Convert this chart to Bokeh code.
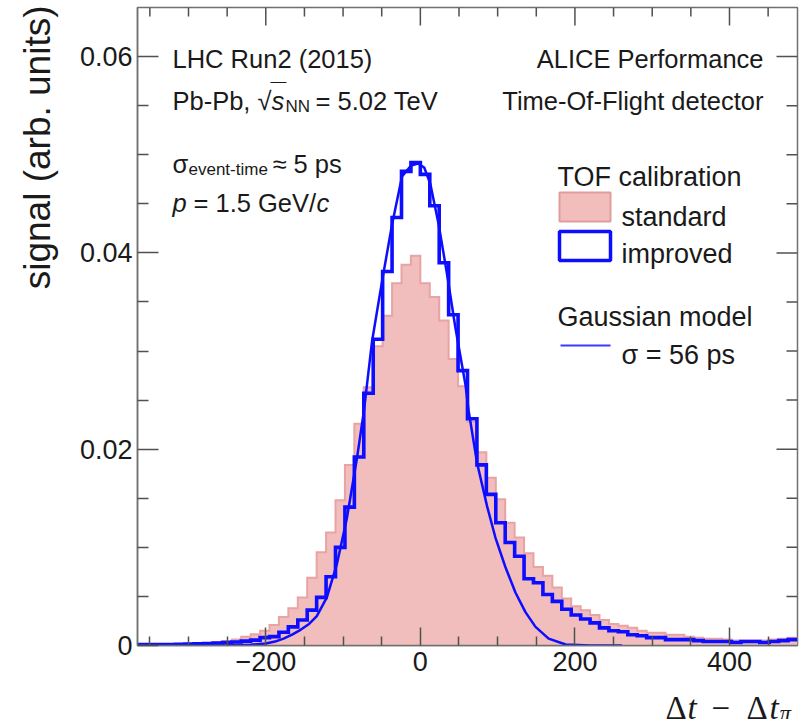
import numpy as np
from bokeh.plotting import figure
from bokeh.models import Range1d, FixedTicker, Label
from bokeh.embed import file_html
from bokeh.resources import INLINE

# ---------------- data ----------------
bin_width = 12.2          # ps
first_bin_index = -30     # first bin starts at -30 * 12.2 ps

standard = [0.00005, 0.00005, 0.0001, 0.0001, 0.00012, 0.00015, 0.0002, 0.00025, 0.0003, 0.00045,
            0.0006, 0.0009, 0.00115, 0.0015, 0.0021, 0.0029, 0.0038, 0.0049, 0.0069, 0.0095,
            0.0115, 0.0148, 0.0184, 0.0226, 0.0263, 0.0305, 0.0336, 0.0369, 0.0388, 0.0397,
            0.0369, 0.0355, 0.0331, 0.0292, 0.0264, 0.0228, 0.0197, 0.0171, 0.0149, 0.0125,
            0.0110, 0.0094, 0.0080, 0.0071, 0.0059, 0.0048, 0.0040, 0.0036, 0.0031, 0.0026,
            0.0022, 0.0020, 0.0018, 0.0015, 0.0013, 0.0013, 0.0011, 0.0011, 0.0009, 0.0008,
            0.0007, 0.0007, 0.0006, 0.0005, 0.0005, 0.0005, 0.0005, 0.0006, 0.0007, 0.0008]

improved = [0.0001, 0.0001, 0.0001, 0.0001, 0.00012, 0.00015, 0.00018, 0.0002, 0.00025, 0.0003,
            0.00035, 0.00045, 0.00055, 0.0008, 0.0009, 0.00135, 0.0019, 0.0026, 0.0036, 0.0049,
            0.0070, 0.0100, 0.0141, 0.0192, 0.0257, 0.0312, 0.0381, 0.0436, 0.0483, 0.0492,
            0.0480, 0.0448, 0.0390, 0.0337, 0.0280, 0.0231, 0.0184, 0.0154, 0.0125, 0.0105,
            0.0091, 0.0068, 0.0064, 0.0052, 0.0045, 0.0037, 0.0031, 0.0027, 0.0023, 0.0018,
            0.0015, 0.0014, 0.0011, 0.0010, 0.0008, 0.0008, 0.0006, 0.0006, 0.0006, 0.0005,
            0.0004, 0.0004, 0.0004, 0.0003, 0.0004, 0.0004, 0.0003, 0.0004, 0.0005, 0.0006]

gauss_x = [-366, -250, -220, -200, -188, -177, -166, -155, -144, -134, -121, -108, -95, -82, -73,
           -62.5, -49.6, -36.6, -23.7, -12, -3, 5, 13, 23.7, 34.6, 45.3, 58.3, 62.5, 73.4,
           86.3, 97.1, 110, 123, 136, 149, 166, 188, 220, 261]
gauss_y = [0.0, 0.00002, 0.00008, 0.0002, 0.0004, 0.0007, 0.0011, 0.0016, 0.0022, 0.0030, 0.0049,
           0.0083, 0.0130, 0.0191, 0.0239, 0.0310, 0.0371, 0.0429, 0.0478, 0.0489, 0.0491, 0.0487,
           0.0470, 0.0429, 0.0378, 0.0324, 0.0266, 0.0239, 0.0186, 0.0142, 0.0110, 0.0080, 0.0054,
           0.0034, 0.0019, 0.0007, 0.0001, 0.0, 0.0]

x_ticks = [-200, 0, 200, 400]
x_tick_labels = ["\u2212200", "0", "200", "400"]
x_minor_ticks = [-350, -300, -250, -150, -100, -50, 50, 100, 150, 250, 300, 350, 450]
y_ticks = [0, 0.02, 0.04, 0.06]
y_tick_labels = ["0", "0.02", "0.04", "0.06"]
y_minor_ticks = [0.005, 0.01, 0.015, 0.025, 0.03, 0.035, 0.045, 0.05, 0.055]

x_min, x_max = -366, 488
y_min, y_max = 0.0, 0.065

# ---------------- layout helpers ----------------
W, H = 807, 719
FL, FR, FT, FB = 137, 797, 7, 645   # frame edges in pixels
UX = (x_max - x_min) / (FR - FL)    # data units per pixel
UY = (y_max - y_min) / (FB - FT)


def X(px):
    return x_min + (px - FL) * UX


def Y(py):
    return y_min + (FB - py) * UY


TXT = "#1a1a1a"
BLUE = "#0d0dff"
RED_FILL = "#f1bdbd"
RED_LINE = "#e8a3a3"
FRAME = "#707070"
TICK = "#505050"

p = figure(width=W, height=H, output_backend="svg", toolbar_location=None,
           x_range=Range1d(x_min, x_max), y_range=Range1d(y_min, y_max),
           min_border_left=FL, min_border_right=W - FR, min_border_top=FT,
           min_border_bottom=H - FB)
p.background_fill_color = "white"
p.border_fill_color = "white"
p.outline_line_color = FRAME
p.outline_line_width = 1.5
p.xgrid.visible = False
p.ygrid.visible = False


def style_axis(ax, major, minor):
    ax.axis_line_color = FRAME
    ax.axis_line_width = 1.5
    ax.major_tick_line_color = TICK
    ax.minor_tick_line_color = TICK
    ax.major_tick_line_width = 1.5
    ax.minor_tick_line_width = 1.5
    ax.major_tick_in = major
    ax.major_tick_out = 0
    ax.minor_tick_in = minor
    ax.minor_tick_out = 0
    ax.major_label_text_font = "Liberation Sans"
    ax.major_label_text_font_size = "27px"
    ax.major_label_text_color = TXT


xa = p.xaxis[0]
xa.ticker = FixedTicker(ticks=x_ticks, minor_ticks=x_minor_ticks)
xa.major_label_overrides = {t: s for t, s in zip(x_ticks, x_tick_labels)}
xa.major_label_standoff = 6
style_axis(xa, 18, 9)

ya = p.yaxis[0]
ya.ticker = FixedTicker(ticks=y_ticks, minor_ticks=y_minor_ticks)
ya.major_label_overrides = {t: s for t, s in zip(y_ticks, y_tick_labels)}
ya.major_label_standoff = 5
style_axis(ya, 21, 11)

# mirrored ticks on the top and right edges of the frame (ROOT style)
for ticks, ln in ((x_ticks, 18), (x_minor_ticks, 9)):
    p.segment(x0=ticks, x1=ticks, y0=[y_max] * len(ticks), y1=[y_max - ln * UY] * len(ticks),
              line_color=TICK, line_width=1.5)
for ticks, ln in ((y_ticks[1:], 21), (y_minor_ticks, 11)):
    p.segment(x0=[x_max] * len(ticks), x1=[x_max - ln * UX] * len(ticks), y0=ticks, y1=ticks,
              line_color=TICK, line_width=1.5)

# ---------------- histograms ----------------
edges = (first_bin_index + np.arange(len(standard) + 1)) * bin_width


def step_path(vals):
    xs = np.repeat(edges, 2)[1:-1]
    ys = np.repeat(np.asarray(vals, dtype=float), 2)
    return xs, ys


sx, sy = step_path(standard)
p.patch(np.concatenate([[edges[0]], sx, [edges[-1]]]),
        np.concatenate([[0.0], sy, [0.0]]),
        fill_color=RED_FILL, line_color=None)
p.line(sx, sy, line_color=RED_LINE, line_width=2, line_join="miter")

p.line(gauss_x, gauss_y, line_color=BLUE, line_width=2.5)

ix, iy = step_path(improved)
p.line(ix, iy, line_color=BLUE, line_width=3.6, line_join="miter")

# ---------------- legend ----------------
p.quad(left=X(559), right=X(610), top=Y(192), bottom=Y(221),
       fill_color=RED_FILL, line_color="#e39c9c", line_width=2)
p.quad(left=X(559), right=X(610), top=Y(231), bottom=Y(260),
       fill_color="white", line_color=BLUE, line_width=3.5)
p.line([X(560), X(610)], [Y(345), Y(345)], line_color="#3a3aff", line_width=2)


def lab(text, px, py, size=25.5, align="left", style="normal", font="Liberation Sans",
        angle=0.0, baseline="alphabetic", color=TXT, place=None):
    lb = Label(x=X(px), y=Y(py), text=text, text_font=font,
               text_font_size=f"{size}px", text_font_style=style,
               text_align=align, text_baseline=baseline, angle=angle,
               text_color=color)
    if place is None:
        p.add_layout(lb)
    else:
        p.add_layout(lb, place)


LS = 27
lab("TOF calibration", 557, 176, LS)
lab("standard", 621, 216, LS)
lab("improved", 621, 253, LS)
lab("Gaussian model", 557, 316, LS)
lab("\u03c3 = 56 ps", 621, 354, LS)

# ---------------- annotations ----------------
lab("LHC Run2 (2015)", 172, 58)
lab("Pb-Pb, \u221a", 172, 100)
lab("s", 271, 100, style="italic")
lab("NN", 285, 106, 17)
lab("= 5.02 TeV", 315, 100)
p.line([X(270), X(286)], [Y(82), Y(82)], line_color=TXT, line_width=1.2)

lab("ALICE Performance", 763, 58, align="right")
lab("Time-Of-Flight detector", 763, 100, align="right")

lab("\u03c3", 172, 163)
lab("event-time", 188, 169, 17)
lab("\u2248 5 ps", 272, 163)

lab("p", 172, 202, style="italic")
lab("= 1.5 GeV/", 193, 202)
lab("c", 316, 202, style="italic")

# axis titles: placed in side panels (which have spare room) so they are not
# clipped to the data frame
lab("signal (arb. units)", 37, 5, 37, align="right", angle=np.pi / 2, place="left")

XF = "Liberation Serif"
NB = "\u00a0"
lab("\u0394" + NB * 3 + "\u2212" + NB * 2 + "\u0394", 665, 707, 33, font=XF, place="below")
lab("t", 687, 707, 33, style="italic", font=XF, place="left")
lab("t", 769, 707, 33, style="italic", font=XF, place="left")
lab("\u03c0", 779, 713, 23, style="italic", font=XF, place="left")

open("out.html", "w").write(file_html(p, INLINE))
